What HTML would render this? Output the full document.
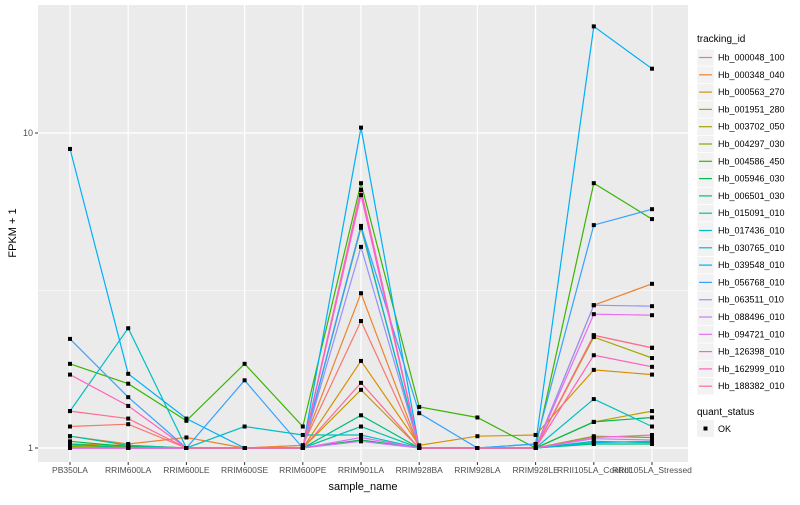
<!DOCTYPE html>
<html><head><meta charset="utf-8"><style>
body{margin:0;background:#fff}
svg text{font-family:"Liberation Sans",Arial,sans-serif}
</style></head><body>
<svg id="chart" width="800" height="500" xmlns="http://www.w3.org/2000/svg">
<rect x="0" y="0" width="800" height="500" fill="#fff"/>
<rect x="38" y="5" width="650" height="457" fill="#EBEBEB"/>
<g id="grid"></g><g id="series"></g><g id="axes"></g><g id="legend"></g>
<text x="363" y="490" font-size="11" text-anchor="middle" fill="#000">sample_name</text>
<text transform="translate(16,233) rotate(-90)" font-size="11" text-anchor="middle" fill="#000">FPKM + 1</text>
</svg>
<script>
const categories=["PB350LA","RRIM600LA","RRIM600LE","RRIM600SE","RRIM600PE","RRIM901LA","RRIM928BA","RRIM928LA","RRIM928LE","RRII105LA_Control","RRII105LA_Stressed"];
const seriesNames=["Hb_000048_100","Hb_000348_040","Hb_000563_270","Hb_001951_280","Hb_003702_050","Hb_004297_030","Hb_004586_450","Hb_005946_030","Hb_006501_030","Hb_015091_010","Hb_017436_010","Hb_030765_010","Hb_039548_010","Hb_056768_010","Hb_063511_010","Hb_088496_010","Hb_094721_010","Hb_126398_010","Hb_162999_010","Hb_188382_010"];
const seriesColors=["#F8766D","#EA8331","#D89000","#C09B00","#A3A500","#7CAE00","#39B600","#00BB4E","#00BF7D","#00C1A3","#00BFC4","#00BAE0","#00B0F6","#35A2FF","#9590FF","#C77CFF","#E76BF3","#FA62DB","#FF62BC","#FF6C91"];
const v_000048=[1.17,1.19,1.0,1.0,1.02,2.53,1.0,1.0,1.0,2.28,2.08];
const v_000348=[1.09,1.03,1.08,1.0,1.02,3.10,1.0,1.0,1.0,2.84,3.32];
const v_000563=[1.03,1.02,1.0,1.0,1.0,1.89,1.02,1.09,1.10,1.77,1.71];
const v_001951=[1.02,1.01,1.0,1.0,1.0,1.53,1.0,1.0,1.0,1.21,1.31];
const v_003702=[1.01,1.0,1.0,1.0,1.0,5.00,1.0,1.0,1.0,2.25,1.93];
const v_004297=[1.01,1.0,1.0,1.0,1.0,6.60,1.0,1.0,1.0,1.09,1.08];
const v_004586=[1.85,1.60,1.22,1.85,1.17,6.93,1.35,1.25,1.0,6.93,5.33];
const v_005946=[1.05,1.01,1.0,1.0,1.0,1.06,1.0,1.0,1.0,1.21,1.25];
const v_006501=[1.03,1.0,1.0,1.0,1.0,1.27,1.0,1.0,1.0,1.03,1.03];
const v_015091=[1.09,1.02,1.0,1.0,1.0,1.17,1.0,1.0,1.0,1.05,1.04];
const v_017436=[1.31,2.40,1.0,1.17,1.10,1.10,1.0,1.0,1.0,1.43,1.17];
const v_030765=[1.0,1.0,1.0,1.0,1.0,5.06,1.0,1.0,1.0,1.04,1.05];
const v_039548=[8.9,1.72,1.24,1.0,1.0,10.4,1.0,1.0,1.03,21.8,16.0];
const v_056768=[2.22,1.45,1.0,1.64,1.0,5.07,1.29,1.0,1.03,5.1,5.73];
const v_063511=[1.0,1.0,1.0,1.0,1.0,4.35,1.0,1.0,1.0,2.84,2.82];
const v_088496=[1.0,1.0,1.0,1.0,1.0,1.05,1.0,1.0,1.0,1.07,1.06];
const v_094721=[1.0,1.0,1.0,1.0,1.0,1.08,1.0,1.0,1.0,2.66,2.64];
const v_126398=[1.0,1.0,1.0,1.0,1.0,6.35,1.0,1.0,1.0,1.08,1.10];
const v_162999=[1.71,1.36,1.0,1.0,1.0,6.6,1.0,1.0,1.0,1.97,1.81];
const v_188382=[1.31,1.24,1.0,1.0,1.0,1.61,1.0,1.0,1.0,2.28,2.08];
const seriesValues=[v_000048,v_000348,v_000563,v_001951,v_003702,v_004297,v_004586,v_005946,v_006501,v_015091,v_017436,v_030765,v_039548,v_056768,v_063511,v_088496,v_094721,v_126398,v_162999,v_188382];
const yTickValues=[1,10];
const yTickLabels=["1","10"];
const yMinorValues=[3.1623,31.623];

const NS="http://www.w3.org/2000/svg";
const PX0=38,PX1=688,PY0=5,PY1=462;
function xScale(i){return 70+i*58.2;}
function yScale(v){return 448-315*Math.log10(v);}
function mk(tag,attrs,parent){const e=document.createElementNS(NS,tag);for(const k in attrs)e.setAttribute(k,attrs[k]);parent.appendChild(e);return e;}
const grid=document.getElementById('grid'),ser=document.getElementById('series'),axes=document.getElementById('axes'),leg=document.getElementById('legend');
yMinorValues.forEach(v=>{const y=yScale(v);if(y<PY0)return;
 const l=mk('line',{x1:PX0,x2:PX1,y1:y,y2:y,stroke:'#fff','stroke-width':0.6},grid);
 
 });
yTickValues.forEach((v,i)=>{const y=yScale(v);
 const l=mk('line',{x1:PX0,x2:PX1,y1:y,y2:y,stroke:'#fff','stroke-width':1.2},grid);
 
 
 const t=mk('line',{x1:PX0-3,x2:PX0,y1:y,y2:y,stroke:'#333','stroke-width':1},axes);
 
 
 const tx=mk('text',{x:PX0-5,y:y+3,'font-size':9,'text-anchor':'end',fill:'#4d4d4d'},axes);
 tx.textContent=yTickLabels[i];
 
 });
categories.forEach((c,i)=>{const x=xScale(i);
 const l=mk('line',{x1:x,x2:x,y1:PY0,y2:PY1,stroke:'#fff','stroke-width':1.2},grid);
 
 
 const t=mk('line',{x1:x,x2:x,y1:PY1,y2:PY1+3,stroke:'#333','stroke-width':1},axes);
 
 
 const tx=mk('text',{x:x,y:PY1+11,'font-size':8.5,'text-anchor':'middle',fill:'#4d4d4d'},axes);
 tx.textContent=c;
 
 });
seriesValues.forEach((vals,s)=>{
 const pts=vals.map((v,i)=>xScale(i).toFixed(1)+','+yScale(v).toFixed(1)).join(' ');
 const pl=mk('polyline',{points:pts,fill:'none',stroke:seriesColors[s],'stroke-width':1.2},ser);
 
 });
seriesValues.forEach((vals,s)=>{vals.forEach((v,i)=>{
 const p=mk('rect',{x:xScale(i)-2,y:yScale(v)-2,width:4,height:4,fill:'#000'},ser);
 
 });});
const lt=mk('text',{x:697,y:42,'font-size':10,fill:'#000'},leg);
lt.textContent='tracking_id';


seriesNames.forEach((n,i)=>{const y=49+i*17.3;
 const b=mk('rect',{x:697,y:y,width:17,height:17,fill:'#F2F2F2',stroke:'#fff','stroke-width':0.5},leg);
 
 
 const l=mk('line',{x1:699,x2:712,y1:y+8.5,y2:y+8.5,stroke:seriesColors[i],'stroke-width':1.2},leg);
 
 
 const t=mk('text',{x:718,y:y+11.5,'font-size':9,fill:'#000'},leg);
 t.textContent=n;
 
 });
const qt=mk('text',{x:697,y:415,'font-size':10,fill:'#000'},leg);
qt.textContent='quant_status';


const qb=mk('rect',{x:697,y:420,width:17,height:17,fill:'#F2F2F2'},leg);


const qp=mk('rect',{x:703.5,y:426.5,width:4,height:4,fill:'#000'},leg);


const qx=mk('text',{x:718,y:432,'font-size':9,fill:'#000'},leg);
qx.textContent='OK';


</script>
</body></html>
